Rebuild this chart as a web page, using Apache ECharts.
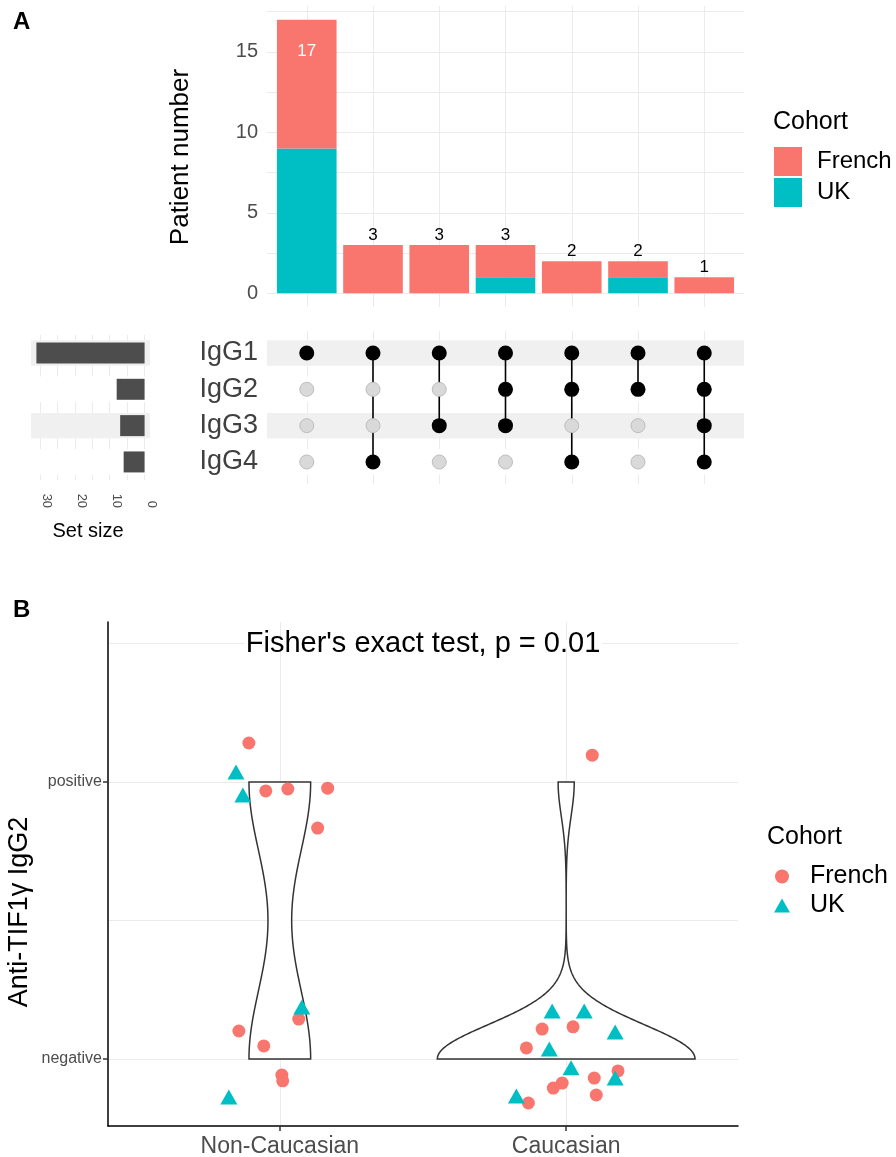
<!DOCTYPE html>
<html><head><meta charset="utf-8">
<script src="https://cdn.jsdelivr.net/npm/echarts@6/dist/echarts.min.js"></script>
<style>html,body{margin:0;padding:0;background:#fff}#c{width:896px;height:1157px}</style>
</head><body><div id="c"></div>
<script>
// ---------------- Panel A data ----------------
const setNames = ['IgG1', 'IgG2', 'IgG3', 'IgG4'];
const intersections = [
  ['IgG1'],
  ['IgG1', 'IgG4'],
  ['IgG1', 'IgG3'],
  ['IgG1', 'IgG2', 'IgG3'],
  ['IgG1', 'IgG2', 'IgG4'],
  ['IgG1', 'IgG2'],
  ['IgG1', 'IgG2', 'IgG3', 'IgG4']
];
const frenchCounts = [8, 3, 3, 2, 2, 1, 1];
const ukCounts = [9, 0, 0, 1, 0, 1, 0];
const setSizes = [31, 8, 7, 6];
const patientTicks = [0, 5, 10, 15];
const patientGrid = [0, 2.5, 5, 7.5, 10, 12.5, 15, 17.5];
const setSizeTicks = [0, 10, 20, 30];
const setSizeGrid = [0, 5, 10, 15, 20, 25, 30];

// ---------------- Panel B data ----------------
const groups = ['Non-Caucasian', 'Caucasian'];
const outcomeLevels = ['negative', 'positive'];   // plotted at 1 and 2
const outcomeGrid = [1, 1.5, 2, 2.5];
// [group index, horizontal jitter, jittered outcome]
const frenchPoints = [
  [0, -0.108, 2.141], [0, -0.049, 1.968], [0, 0.028, 1.975], [0, 0.167, 1.978], [0, 0.132, 1.834],
  [0, 0.066, 1.144], [0, -0.143, 1.101], [0, -0.056, 1.047], [0, 0.007, 0.942], [0, 0.010, 0.921],
  [1, 0.091, 2.097], [1, -0.084, 1.108], [1, 0.024, 1.116], [1, -0.139, 1.040], [1, 0.181, 0.957],
  [1, 0.098, 0.931], [1, -0.014, 0.913], [1, -0.045, 0.895], [1, 0.105, 0.870], [1, -0.132, 0.841]
];
const ukPoints = [
  [0, -0.153, 2.036], [0, -0.129, 1.953], [0, 0.077, 1.188], [0, -0.178, 0.863],
  [1, -0.049, 1.173], [1, 0.063, 1.173], [1, 0.171, 1.097], [1, -0.059, 1.036],
  [1, 0.017, 0.968], [1, 0.171, 0.931], [1, -0.174, 0.866]
];

// ---------------- styling ----------------
const FONT = '"Liberation Sans", Arial, Helvetica, sans-serif';
const FR = '#F8766D', UKC = '#00BFC4';
const GRIDC = '#EBEBEB';
const TXT = '#4D4D4D';

// ---------------- derived ----------------
const totals = frenchCounts.map((v, i) => v + ukCounts[i]);
const colIdx = intersections.map((_, i) => i);
const memberPts = [], emptyPts = [], links = [];
intersections.forEach((sets, c) => {
  const rows = sets.map(s => setNames.indexOf(s));
  setNames.forEach((s, r) => (rows.includes(r) ? memberPts : emptyPts).push([c, r]));
  links.push([c, Math.min(...rows), Math.max(...rows)]);
});
const bandRows = setNames.map((s, r) => [0, r]);
// stacked segments: [column, lower, upper]  (UK at the bottom, French on top)
const ukSegments = ukCounts.map((v, i) => [i, 0, v]);
const frenchSegments = frenchCounts.map((v, i) => [i, ukCounts[i], ukCounts[i] + v]);
const totalLabels = totals.map((t, i) => t >= 10
  ? { value: [i, t], label: { position: 'bottom', distance: 23, color: '#fff' } }
  : [i, t]);

// violin: gaussian KDE (bw.nrd0), trimmed to data range, scale = "area"
function q7(s, p) { const h = (s.length - 1) * p, lo = Math.floor(h); const hi = Math.min(lo + 1, s.length - 1); return s[lo] + (h - lo) * (s[hi] - s[lo]); }
function bwNrd0(x) {
  const n = x.length, m = x.reduce((a, b) => a + b, 0) / n;
  const sd = Math.sqrt(x.reduce((a, b) => a + (b - m) * (b - m), 0) / (n - 1));
  const s = [...x].sort((a, b) => a - b);
  let lo = Math.min(sd, (q7(s, 0.75) - q7(s, 0.25)) / 1.34);
  if (!lo) lo = sd || Math.abs(s[0]) || 1;
  return 0.9 * lo * Math.pow(n, -0.2);
}
function kde(x, bw, at) { let s = 0; for (const xi of x) { const z = (at - xi) / bw; s += Math.exp(-0.5 * z * z); } return s / (x.length * bw * Math.sqrt(2 * Math.PI)); }
const allPoints = frenchPoints.concat(ukPoints);
const violinProfiles = groups.map((g, gi) => {
  const obs = allPoints.filter(p => p[0] === gi).map(p => Math.round(p[2]));
  const bw = bwNrd0(obs), lo = Math.min(...obs), hi = Math.max(...obs);
  const prof = [];
  for (let k = 0; k <= 256; k++) { const y = lo + (hi - lo) * k / 256; prof.push([y, kde(obs, bw, y)]); }
  return prof;
});
const maxDens = Math.max(...violinProfiles.map(p => Math.max(...p.map(d => d[1]))));

function renderViolin(params, api) {
  const gi = api.value(0);
  const prof = violinProfiles[gi];
  const right = prof.map(([y, d]) => api.coord([gi + 0.45 * d / maxDens, y]));
  const left = prof.slice().reverse().map(([y, d]) => api.coord([gi - 0.45 * d / maxDens, y]));
  return { type: 'polygon', shape: { points: right.concat(left) }, style: { fill: '#fff', stroke: '#333', lineWidth: 1.5 } };
}
function renderSegment(params, api) {
  const i = api.value(0), lo = api.value(1), hi = api.value(2);
  if (!(hi > lo)) return null;
  const p0 = api.coord([i, lo]), p1 = api.coord([i, hi]);
  const w = api.size([0.9, 0])[0];
  return { type: 'rect', shape: { x: p0[0] - w / 2, y: p1[1], width: w, height: p0[1] - p1[1] }, style: api.style() };
}
function renderLink(params, api) {
  const c = api.value(0), r0 = api.value(1), r1 = api.value(2);
  if (r0 === r1) return null;
  const p0 = api.coord([c, r0]), p1 = api.coord([c, r1]);
  return { type: 'line', shape: { x1: p0[0], y1: p0[1], x2: p1[0], y2: p1[1] }, style: { stroke: '#000', lineWidth: 1.6 } };
}
function renderBand(params, api) {
  const row = api.value(1);
  const cs = params.coordSys;
  const c = api.coord([api.value(0), row]);
  const h = api.size([1, 1])[1] * 0.7;
  return { type: 'rect', shape: { x: cs.x, y: c[1] - h / 2, width: cs.width, height: h }, style: { fill: row % 2 === 0 ? '#F0F0F0' : '#FFFFFF' } };
}

const hidden = { show: false };
const split = { show: true, lineStyle: { color: GRIDC, width: 1 } };

const option = {
  animation: false,
  textStyle: { fontFamily: FONT },
  grid: [
    { left: 267, top: 6, width: 477, height: 301, outerBoundsMode: 'none' },
    { left: 267, top: 331.2, width: 477, height: 152.6, outerBoundsMode: 'none' },
    { left: 31, top: 334.8, width: 119, height: 145.3, outerBoundsMode: 'none' },
    { left: 108, top: 622, width: 630, height: 504, outerBoundsMode: 'none' }
  ],
  xAxis: [
    { gridIndex: 0, type: 'value', min: -0.6, max: 6.6, axisLine: { show: false, onZero: false },
      axisTick: { show: false, customValues: colIdx }, axisLabel: hidden, splitLine: split },
    { gridIndex: 1, type: 'value', min: -0.6, max: 6.6, axisLine: { show: false, onZero: false },
      axisTick: { show: false, customValues: colIdx }, axisLabel: hidden, splitLine: split },
    { gridIndex: 2, type: 'value', inverse: true, min: -1.55, max: 32.55, axisLine: { show: false, onZero: false },
      axisTick: { show: false, customValues: setSizeGrid },
      axisLabel: { customValues: setSizeTicks, rotate: -90, align: 'right', verticalAlign: 'bottom', margin: 28, fontSize: 13, color: TXT },
      splitLine: split },
    { gridIndex: 3, type: 'value', min: -0.6, max: 1.6,
      axisLine: { show: true, onZero: false, lineStyle: { color: '#000', width: 1.5 } },
      axisTick: { show: true, customValues: [0, 1], length: 5, lineStyle: { color: '#333', width: 1.5 } },
      axisLabel: { customValues: [0, 1], formatter: v => groups[Math.round(v)], fontSize: 23, color: TXT, margin: 9 },
      splitLine: split }
  ],
  yAxis: [
    { gridIndex: 0, type: 'value', min: -0.85, max: 17.85, axisLine: { show: false, onZero: false },
      axisTick: { show: false, customValues: patientGrid },
      axisLabel: { customValues: patientTicks, fontSize: 20, color: TXT, margin: 9 }, splitLine: split },
    { gridIndex: 1, type: 'value', inverse: true, min: -0.6, max: 3.6, axisLine: { show: false, onZero: false },
      axisTick: { show: false, customValues: [0, 1, 2, 3] },
      axisLabel: { customValues: [0, 1, 2, 3], formatter: v => setNames[Math.round(v)], fontSize: 27, color: '#404040', margin: 9 },
      splitLine: hidden },
    { gridIndex: 2, type: 'category', inverse: true, data: setNames, axisLine: { show: false, onZero: false },
      axisTick: hidden, axisLabel: hidden, splitLine: hidden },
    { gridIndex: 3, type: 'value', position: 'left', min: 0.758, max: 2.578, axisLine: { show: false, onZero: false },
      axisTick: { show: false, customValues: outcomeGrid }, axisLabel: hidden, splitLine: split },
    { gridIndex: 3, type: 'value', position: 'left', min: 0.758, max: 2.578,
      axisLine: { show: true, onZero: false, lineStyle: { color: '#000', width: 1.5 } },
      axisTick: { show: true, customValues: [1, 2], length: 5, lineStyle: { color: '#333', width: 1.5 } },
      axisLabel: { customValues: [1, 2], formatter: v => outcomeLevels[Math.round(v) - 1], fontSize: 16, color: TXT, margin: 6 },
      splitLine: hidden }
  ],
  legend: [
    { data: [{ name: 'French', icon: 'rect' }, { name: 'UK', icon: 'rect' }], orient: 'vertical', left: 774, top: 147,
      itemWidth: 28, itemHeight: 29, itemGap: 2, padding: 0, selectedMode: false,
      textStyle: { fontSize: 24, color: '#000', lineHeight: 29, padding: [0, 0, 0, 10] } },
    { data: [{ name: 'French', icon: 'circle' }, { name: 'UK', icon: 'triangle' }], orient: 'vertical', left: 774, top: 862,
      itemWidth: 16, itemHeight: 14, itemGap: 0, padding: 0, selectedMode: false,
      textStyle: { fontSize: 25, color: '#000', lineHeight: 29, padding: [0, 0, 0, 15] } }
  ],
  graphic: [
    { type: 'text', x: 13, y: 22, style: { text: 'A', font: 'bold 24px ' + FONT, fill: '#000', align: 'left', verticalAlign: 'middle' } },
    { type: 'text', x: 13, y: 610, style: { text: 'B', font: 'bold 24px ' + FONT, fill: '#000', align: 'left', verticalAlign: 'middle' } },
    { type: 'text', x: 181, y: 157, rotation: Math.PI / 2, style: { text: 'Patient number', font: '26px ' + FONT, fill: '#000', align: 'center', verticalAlign: 'middle' } },
    { type: 'text', x: 88, y: 531, style: { text: 'Set size', font: '20px ' + FONT, fill: '#000', align: 'center', verticalAlign: 'middle' } },
    { type: 'text', x: 773, y: 122, style: { text: 'Cohort', font: '25px ' + FONT, fill: '#000', align: 'left', verticalAlign: 'middle' } },
    { type: 'text', x: 767, y: 837, style: { text: 'Cohort', font: '25px ' + FONT, fill: '#000', align: 'left', verticalAlign: 'middle' } },
    { type: 'rect', z: 50, shape: { x: 244, y: 640, width: 358, height: 7 }, style: { fill: '#fff' } },
    { type: 'text', z: 51, x: 423, y: 644, style: { text: "Fisher's exact test, p = 0.01", font: '29px ' + FONT, fill: '#000', align: 'center', verticalAlign: 'middle' } },
    { type: 'text', x: 20, y: 912, rotation: Math.PI / 2, style: { text: 'Anti-TIF1γ IgG2', font: '27px ' + FONT, fill: '#000', align: 'center', verticalAlign: 'middle' } }
  ],
  series: [
    // intersection bars (stacked: UK bottom, French top)
    { name: 'UK', type: 'custom', xAxisIndex: 0, yAxisIndex: 0, renderItem: renderSegment, encode: { x: 0, y: [1, 2] },
      itemStyle: { color: UKC }, data: ukSegments, z: 2 },
    { name: 'French', type: 'custom', xAxisIndex: 0, yAxisIndex: 0, renderItem: renderSegment, encode: { x: 0, y: [1, 2] },
      itemStyle: { color: FR }, data: frenchSegments, z: 2 },
    { name: 'Total', type: 'scatter', xAxisIndex: 0, yAxisIndex: 0, symbolSize: 0, z: 5, silent: true,
      itemStyle: { opacity: 1 },
      label: { show: true, position: 'top', distance: 1, fontSize: 17, color: '#000', opacity: 1, formatter: p => p.value[1] },
      data: totalLabels },
    // matrix
    { type: 'custom', xAxisIndex: 1, yAxisIndex: 1, renderItem: renderBand, data: bandRows, z: 1, silent: true },
    { type: 'custom', xAxisIndex: 1, yAxisIndex: 1, renderItem: renderLink, data: links, encode: { x: 0, y: [1, 2] }, z: 3, silent: true },
    { type: 'scatter', xAxisIndex: 1, yAxisIndex: 1, data: emptyPts, symbolSize: 14, z: 4,
      itemStyle: { color: '#D9D9D9', borderColor: '#BDBDBD', borderWidth: 1, opacity: 1 } },
    { type: 'scatter', xAxisIndex: 1, yAxisIndex: 1, data: memberPts, symbolSize: 15, z: 5, itemStyle: { color: '#000', opacity: 1 } },
    // set size
    { type: 'custom', xAxisIndex: 2, yAxisIndex: 2, renderItem: renderBand, data: bandRows, z: 1, silent: true },
    { type: 'bar', xAxisIndex: 2, yAxisIndex: 2, data: setSizes, barWidth: 21, z: 3, itemStyle: { color: '#4D4D4D' } },
    // panel B
    { type: 'custom', xAxisIndex: 3, yAxisIndex: 4, renderItem: renderViolin, data: groups.map((g, i) => [i, 1.5]), z: 2, silent: true },
    { name: 'French', type: 'scatter', xAxisIndex: 3, yAxisIndex: 4, symbol: 'circle', symbolSize: 13, z: 4,
      itemStyle: { color: FR, opacity: 1 }, data: frenchPoints.map(p => [p[0] + p[1], p[2]]) },
    { name: 'UK', type: 'scatter', xAxisIndex: 3, yAxisIndex: 4, symbol: 'triangle', symbolSize: [17, 15], z: 4,
      itemStyle: { color: UKC, opacity: 1 }, data: ukPoints.map(p => [p[0] + p[1], p[2]]) }
  ]
};
const chart = echarts.init(document.getElementById('c'), null, { renderer: 'canvas' });
chart.setOption(option);
</script>
</body></html>
